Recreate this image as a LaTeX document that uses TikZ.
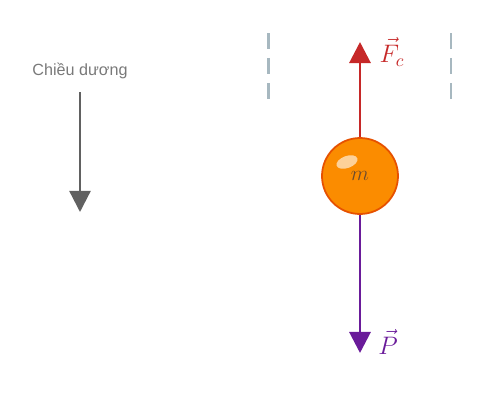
\documentclass[tikz,border=0pt]{standalone}
\usepackage{fontspec}
\setsansfont{Liberation Sans}
\usepackage{tikz}
\usetikzlibrary{arrows.meta}
\definecolor{forcered}{HTML}{C62828}
\definecolor{weightpurple}{HTML}{6A1B9A}
\definecolor{axisgray}{HTML}{616161}
\definecolor{ballfill}{HTML}{FB8C00}
\definecolor{balledge}{HTML}{E65100}
\definecolor{wallgray}{HTML}{A7B8C0}
\definecolor{masstext}{HTML}{6D4C2E}
\begin{document}
\begin{tikzpicture}[x=0.02cm, y=-0.02cm,
    force/.style={line width=1.7pt, -{Triangle[width=12pt, length=12pt]}},
    wall/.style={wallgray, line width=1.3pt, dash pattern=on 9.1pt off 5.1pt}]
            \def\bx{360}
            \def\by{176}
            \def\br{38}
            \useasboundingbox (0,0) rectangle (495,400);
            % walls of the tube
            \draw[wall] (268.5,33) -- (268.5,101);
            \draw[wall] (451,33) -- (451,101);
            % positive direction
            \node[font=\sffamily\fontsize{9.2}{10}\selectfont, text=axisgray!85] (dirlabel) at (80,71) {Chiều dương};
            \coordinate (dirtop) at (80,92);
            \coordinate (dirtip) at (80,212);
            \draw[force, axisgray, line width=1.3pt] (dirtop) -- (dirtip);
            % the ball
            \node[circle, minimum size={2*\br*0.02cm}, inner sep=0pt, fill=ballfill, draw=balledge, line width=1pt] (ball) at (\bx,\by) {};
            \fill[white, opacity=0.6, rotate around={20:(347,162)}] (347,162) ellipse (11 and 6);
            \node[text=masstext, font=\fontsize{12}{13}\selectfont] (mass) at (\bx,\by) {$m$};
            % forces
            \coordinate (fctip) at (\bx,42);
            \coordinate (ptip) at (\bx,353);
            \draw[force, forcered] (ball.north) -- (fctip);
            \draw[force, weightpurple] (ball.south) -- (ptip);
            \node[text=forcered, font=\fontsize{14}{15}\selectfont] (fclabel) at (392,52) {$\vec{F}_c$};
            \node[text=weightpurple, font=\fontsize{14}{15}\selectfont] (plabel) at (388,342) {$\vec{P}$};
\end{tikzpicture}
\end{document}
